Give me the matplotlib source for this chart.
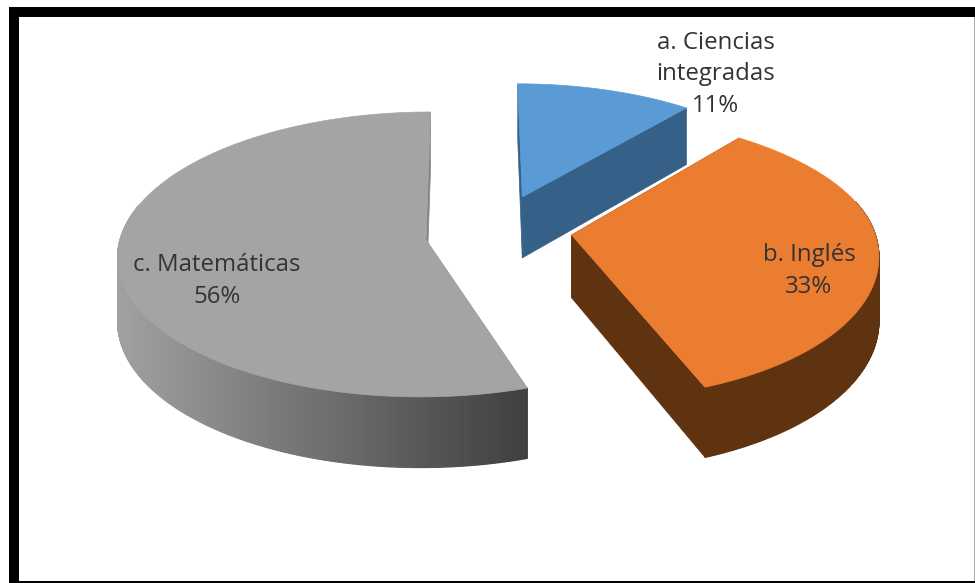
import numpy as np
import matplotlib
matplotlib.use("Agg")
import matplotlib.pyplot as plt
from matplotlib.patches import Polygon, Rectangle
from matplotlib.collections import PolyCollection

categories = ["a. Ciencias\nintegradas", "b. Inglés", "c. Matemáticas"]
values = [11, 33, 56]
top_colors = ["#5B9BD5", "#EB7D31", "#A4A4A4"]
cut_colors = ["#356087", "#5F3210", "#858585"]
label_xy = [(716, 74.5), (809, 271), (217, 281)]

# geometry of each exploded slice, before perspective
apex_world = [(52, 44.5), (100, 5), (-46, 0)]
radius_x = [293, 305, 306]
radius_back = [133, 135, 142]
radius_front = [133, 147, 140]
start_trim = [0, -1.1, 3.4]
end_trim = [0, 0.6, 0]
DEPTH = 63
X0, Y0, H = 472, 240, 1300  # perspective centre and vanishing height


def proj(X, Y, low=False):
    s = 1.0 / (1.0 + Y / H)
    return X0 + X * s, Y0 - Y * s + (DEPTH * s if low else 0)


def wall_color(i, px):
    if i == 2:
        t = np.clip((px - 117) / (528 - 117), 0, 1)
        g = 0.63 * (1 - t) + 0.245 * t
        return (g, g, g)
    return cut_colors[i]


fig = plt.figure(figsize=(9.75, 5.83), dpi=100, facecolor="white")
ax = fig.add_axes([0, 0, 1, 1])
ax.set_xlim(0, 975)
ax.set_ylim(583, 0)
ax.axis("off")

total = sum(values)
ang = 90.0
for i, v in enumerate(values):
    a0 = ang - start_trim[i]
    a1 = ang - 360.0 * v / total
    ang = a1
    a1 = a1 - end_trim[i]
    t = np.radians(np.linspace(a0, a1, max(int(abs(a1 - a0)) * 2, 8)))
    cx, cy = apex_world[i]
    sn = np.sin(t)
    X = cx + radius_x[i] * np.cos(t)
    Y = cy + np.where(sn > 0, radius_back[i], radius_front[i]) * sn
    topx, topy = proj(X, Y)
    lowx, lowy = proj(X, Y, True)
    apx, apy = proj(cx, cy)
    alx, aly = proj(cx, cy, True)

    # cut faces
    for k in (0, -1):
        ax.add_patch(Polygon([(apx, apy), (topx[k], topy[k]), (lowx[k], lowy[k]), (alx, aly)],
                             closed=True, fc=cut_colors[i], ec=cut_colors[i], lw=0.5, zorder=2 + i * 3))
    # curved wall: only the side turned towards the viewer
    quads, cols = [], []
    for j in range(len(t) - 1):
        if sn[j] > 0.25 and sn[j + 1] > 0.25:
            continue
        quads.append([(topx[j], topy[j]), (topx[j + 1], topy[j + 1]),
                      (lowx[j + 1], lowy[j + 1]), (lowx[j], lowy[j])])
        cols.append(wall_color(i, 0.5 * (topx[j] + topx[j + 1])))
    if quads:
        ax.add_collection(PolyCollection(quads, facecolors=cols, edgecolors=cols,
                                         linewidths=0.9, zorder=3 + i * 3))
    # top face
    pts = [(apx, apy)] + list(zip(topx, topy))
    ax.add_patch(Polygon(pts, closed=True, fc=top_colors[i], ec=top_colors[i], lw=0.5, zorder=4 + i * 3))

    pct = f"{round(100 * v / total)}%"
    ax.text(label_xy[i][0], label_xy[i][1], f"{categories[i]}\n{pct}", ha="center", va="center",
            ma="center", fontsize=17.3, family="Open Sans", color="#333333", linespacing=1.42, zorder=30)

# frame: thick black at left, top and bottom edge, a thin grey line at the right edge
for (x, y, w, h, c) in [(9, 7, 10, 576, "black"), (9, 7, 966, 10, "black"),
                        (9, 580.5, 966, 2.5, "black"), (973.5, 17, 1.5, 564, "#a8a8a8")]:
    ax.add_patch(Rectangle((x, y), w, h, fc=c, ec="none", zorder=40))

fig.savefig("out.png", dpi=100, facecolor="white")
